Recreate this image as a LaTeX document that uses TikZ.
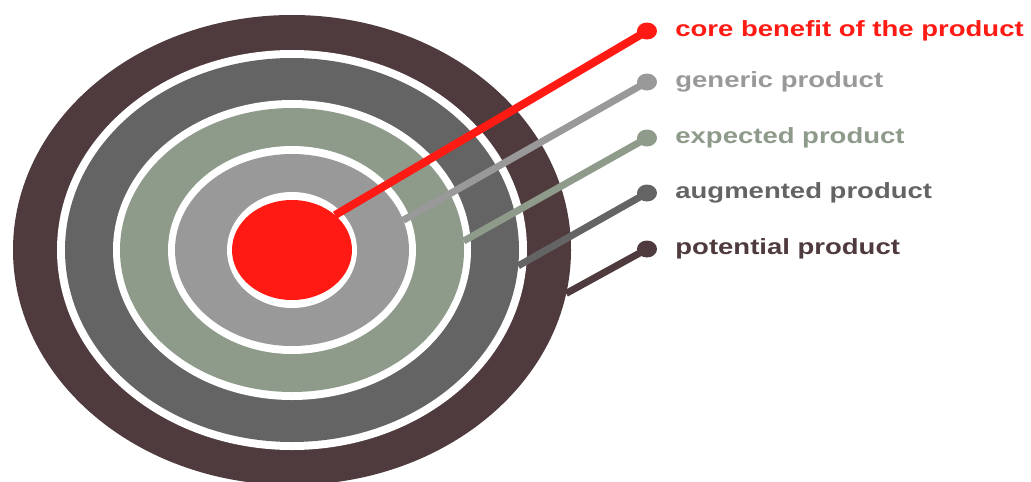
\documentclass[tikz,border=0pt]{standalone}
\usepackage{fontspec}
\usepackage{tikz}
\usetikzlibrary{shapes.geometric,positioning}
\newfontfamily\labelfont[FakeStretch=1.25]{Liberation Sans}
\definecolor{corered}{RGB}{255,26,20}
\definecolor{genericgray}{RGB}{153,153,153}
\definecolor{expectedsage}{RGB}{142,154,138}
\definecolor{augmentedgray}{RGB}{100,100,100}
\definecolor{potentialbrown}{RGB}{79,59,61}

\begin{document}
\begin{tikzpicture}[x=1pt, y=-1pt,
    ring/.style={ellipse, inner sep=0pt, outer sep=0pt},
    gap/.style={ellipse, inner sep=0pt, outer sep=0pt, fill=white},
    dot/.style={ellipse, inner sep=0pt, minimum width=20pt, minimum height=17pt},
    tag/.style={inner sep=0pt, anchor=west,
        font=\labelfont\bfseries\fontsize{22}{26}\selectfont},
    link/.style={line width=7pt}]
\useasboundingbox (0,0) rectangle (1031,482);

% target rings, outside in
\node[ring, fill=potentialbrown, minimum width=558pt, minimum height=470pt] (potential) at (292,250) {};
\node[gap, minimum width=470pt, minimum height=400pt] (gap1) at (292,250) {};
\node[ring, fill=augmentedgray, minimum width=454pt, minimum height=384pt] (augmented) at (292,250) {};
\node[gap, minimum width=358pt, minimum height=300pt] (gap2) at (292,250) {};
\node[ring, fill=expectedsage, minimum width=344pt, minimum height=284pt] (expected) at (292,250) {};
\node[gap, minimum width=248pt, minimum height=208pt] (gap3) at (292,250) {};
\node[ring, fill=genericgray, minimum width=234pt, minimum height=192pt] (generic) at (292,250) {};
\node[gap, minimum width=130pt, minimum height=116pt] (gap4) at (292,250) {};
\node[ring, fill=corered, minimum width=120pt, minimum height=100pt] (core) at (292,250) {};

% dots and labels
\node[dot, fill=corered]        (d1) at (647,31)  {};
\node[dot, fill=genericgray]    (d2) at (647,82)  {};
\node[dot, fill=expectedsage]   (d3) at (647,138) {};
\node[dot, fill=augmentedgray]  (d4) at (647,193) {};
\node[dot, fill=potentialbrown] (d5) at (647,249) {};

\node[tag, text=corered,        right=18pt of d1] (t1) {core benefit of the product};
\node[tag, text=genericgray,    right=18pt of d2] (t2) {generic product};
\node[tag, text=expectedsage,   right=18pt of d3] (t3) {expected product};
\node[tag, text=augmentedgray,  right=18pt of d4] (t4) {augmented product};
\node[tag, text=potentialbrown, right=18pt of d5] (t5) {potential product};

% pointers
\draw[link, corered, line width=8pt] (core.39)   -- (d1.center);
\draw[link, genericgray]    (generic.15.9)  -- (d2.center);
\draw[link, expectedsage]   (expected.3.3)  -- (d3.center);
\draw[link, augmentedgray]  (augmented.-4.5) -- (d4.center);
\draw[link, potentialbrown] (potential.-9.5) -- (d5.center);
\end{tikzpicture}
\end{document}
